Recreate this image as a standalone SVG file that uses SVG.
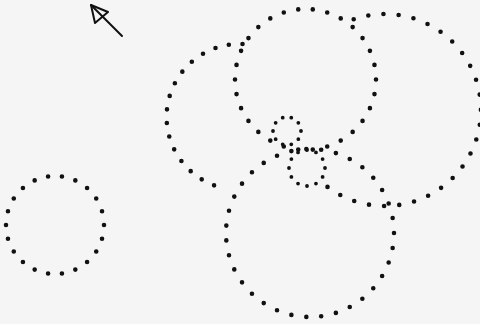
<svg xmlns="http://www.w3.org/2000/svg" width="480" height="324" viewBox="0 0 480 324">
<style>
.dot{fill:none;stroke:#111;stroke-width:4.6;stroke-linecap:round;stroke-dasharray:0 1}
.sdot{fill:none;stroke:#111;stroke-width:3.8;stroke-linecap:round;stroke-dasharray:0 1}
.pen{fill:none;stroke:#111;stroke-width:2;stroke-linecap:round;stroke-linejoin:round}
</style>
<rect x="0" y="0" width="480" height="324" fill="#f5f5f5"/>
<g id="circle-left"><circle class="dot" cx="55" cy="225" r="49" pathLength="22"/></g>
<g id="circle-big-left"><path class="dot" d="M242.5,44 A73,73 0 0 0 227.3,188.9" pathLength="16"/></g>
<g id="circle-top-right"><path class="dot" d="M353.7,19.2 A96,96 0 1 1 327.5,186.9" pathLength="26"/></g>
<g id="circle-top"><circle class="dot" cx="305.5" cy="79.5" r="70.5" pathLength="30"/></g>
<g id="circle-bottom"><circle class="dot" cx="310" cy="233" r="84" pathLength="35"/></g>
<g id="circle-small-upper"><circle class="sdot" cx="287" cy="131" r="14" pathLength="10"/></g>
<g id="circle-small-lower"><circle class="sdot" cx="307" cy="168" r="18" pathLength="12"/></g>
<g id="connectors">
<path class="pen" d="M122,36 L91,5"/>
<path class="pen" d="M91,5 L108,12 L95,23 Z"/>
</g>
</svg>
